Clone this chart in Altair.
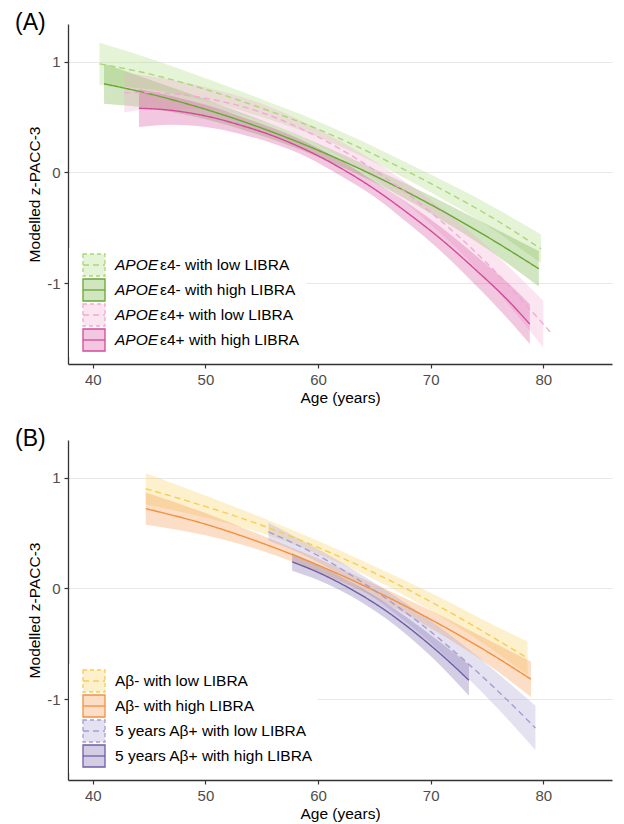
import altair as alt
import pandas as pd

FONT = "Liberation Sans"

# ---------------- Panel A data ----------------
A_names = ["APOE ε4- with low LIBRA", "APOE ε4- with high LIBRA",
           "APOE ε4+ with low LIBRA", "APOE ε4+ with high LIBRA"]
A_italic = ["APOE", "APOE", "APOE", "APOE"]
A_rest = ["ε4- with low LIBRA", "ε4- with high LIBRA",
          "ε4+ with low LIBRA", "ε4+ with high LIBRA"]
A_lty = ["low", "high", "low", "high"]
A_colors = ["#a9d877", "#66a832", "#f2a9d2", "#d4489c"]

A1_age = [40.6, 45, 50, 55, 60, 65, 70, 75, 79.8]
A1_fit = [0.98, 0.89, 0.75, 0.58, 0.39, 0.16, -0.10, -0.38, -0.69]
A1_hi = [1.17, 1.03, 0.85, 0.66, 0.46, 0.23, -0.02, -0.28, -0.56]
A1_lo = [0.79, 0.75, 0.65, 0.50, 0.32, 0.09, -0.18, -0.48, -0.82]

A2_age = [41.0, 45, 50, 55, 60, 65, 70, 75, 79.6]
A2_fit = [0.80, 0.71, 0.57, 0.40, 0.20, -0.03, -0.29, -0.58, -0.87]
A2_hi = [0.98, 0.84, 0.66, 0.47, 0.26, 0.03, -0.21, -0.47, -0.71]
A2_lo = [0.62, 0.58, 0.48, 0.33, 0.14, -0.09, -0.37, -0.69, -1.03]

A3_age = [42.8, 45, 50, 55, 60, 65, 70, 75, 80, 80.7]
A3_fit = [0.72, 0.72, 0.67, 0.54, 0.32, 0.02, -0.36, -0.82, -1.37, -1.45]
A3_hi = [0.90, 0.87, 0.77, 0.62, 0.39, 0.10, -0.25, -0.67, -1.16]
A3_lo = [0.54, 0.57, 0.57, 0.46, 0.25, -0.06, -0.47, -0.97, -1.58]

A4_age = [44.1, 47, 50, 53, 56, 59, 62, 65, 68, 71, 74, 77, 78.8]
A4_fit = [0.58, 0.56, 0.51, 0.43, 0.33, 0.20, 0.04, -0.15, -0.37, -0.61, -0.88, -1.17, -1.37]
A4_hi = [0.75, 0.69, 0.61, 0.51, 0.40, 0.27, 0.11, -0.08, -0.28, -0.50, -0.75, -1.01, -1.19]
A4_lo = [0.41, 0.43, 0.41, 0.35, 0.26, 0.14, -0.03, -0.22, -0.46, -0.72, -1.02, -1.34, -1.55]

# ---------------- Panel B data ----------------
B_names = ["Aβ- with low LIBRA", "Aβ- with high LIBRA",
           "5 years Aβ+ with low LIBRA", "5 years Aβ+ with high LIBRA"]
B_italic = ["", "", "", ""]
B_rest = B_names
B_lty = ["low", "high", "low", "high"]
B_colors = ["#f7cd55", "#f2913f", "#a69dd2", "#6e5ea6"]

B1_age = [44.7, 50, 55, 60, 65, 70, 75, 78.6]
B1_fit = [0.90, 0.74, 0.57, 0.37, 0.14, -0.12, -0.41, -0.63]
B1_hi = [1.04, 0.84, 0.64, 0.43, 0.20, -0.04, -0.30, -0.48]
B1_lo = [0.76, 0.64, 0.50, 0.31, 0.08, -0.20, -0.52, -0.78]

B2_age = [44.7, 50, 55, 60, 65, 70, 75, 78.9]
B2_fit = [0.72, 0.58, 0.41, 0.21, -0.02, -0.28, -0.57, -0.82]
B2_hi = [0.865, 0.68, 0.48, 0.27, 0.04, -0.20, -0.46, -0.66]
B2_lo = [0.575, 0.48, 0.34, 0.15, -0.08, -0.36, -0.68, -0.98]

B3_age = [55.6, 58, 61, 64, 67, 70, 73, 76, 79.3]
B3_fit = [0.51, 0.40, 0.24, 0.05, -0.16, -0.39, -0.65, -0.93, -1.26]
B3_hi = [0.59, 0.465, 0.30, 0.115, -0.08, -0.29, -0.52, -0.77, -1.06]
B3_lo = [0.43, 0.335, 0.18, -0.015, -0.24, -0.49, -0.78, -1.09, -1.46]

B4_age = [57.7, 60, 62, 64, 66, 68, 70, 72, 73.4]
B4_fit = [0.24, 0.145, 0.045, -0.07, -0.20, -0.35, -0.515, -0.695, -0.83]
B4_hi = [0.32, 0.215, 0.11, -0.005, -0.13, -0.27, -0.42, -0.575, -0.69]
B4_lo = [0.16, 0.075, -0.02, -0.135, -0.27, -0.43, -0.61, -0.815, -0.97]

X_TICKS = [40, 50, 60, 70, 80]
Y_TICKS = [-1, 0, 1]
X_DOMAIN = [37.8, 86.1]
Y_DOMAIN = [-1.73, 1.34]


def build_df(names, ltys, blocks):
    rows = []
    for name, lty, (ages, fit, hi, lo) in zip(names, ltys, blocks):
        for i, a in enumerate(ages):
            rows.append({
                "series": name, "lty": lty, "age": a, "fit": fit[i],
                "upper": hi[i] if i < len(hi) else None,
                "lower": lo[i] if i < len(lo) else None,
            })
    return pd.DataFrame(rows)


dfA = build_df(A_names, A_lty, [(A1_age, A1_fit, A1_hi, A1_lo),
                                (A2_age, A2_fit, A2_hi, A2_lo),
                                (A3_age, A3_fit, A3_hi, A3_lo),
                                (A4_age, A4_fit, A4_hi, A4_lo)])
dfB = build_df(B_names, B_lty, [(B1_age, B1_fit, B1_hi, B1_lo),
                                (B2_age, B2_fit, B2_hi, B2_lo),
                                (B3_age, B3_fit, B3_hi, B3_lo),
                                (B4_age, B4_fit, B4_hi, B4_lo)])

DASH = [6, 4]


def panel(df, names, colors, ltys, italics, rests, tag, bg_width):
    xenc = alt.X("age:Q", scale=alt.Scale(domain=X_DOMAIN, nice=False, zero=False),
                 axis=alt.Axis(values=X_TICKS, title="Age (years)", grid=False))
    yaxis = alt.Axis(values=Y_TICKS, title="Modelled z-PACC-3", grid=True,
                     labelExpr="'' + datum.value")
    yscale = alt.Scale(domain=Y_DOMAIN, nice=False, zero=False)
    color = alt.Color("series:N", scale=alt.Scale(domain=names, range=colors), legend=None)

    base = alt.Chart(df)
    band = base.transform_filter("isValid(datum.lower)").mark_area(
        interpolate="monotone", fillOpacity=0.3).encode(
        x=xenc, y=alt.Y("lower:Q", scale=yscale, axis=yaxis), y2="upper:Q", color=color)
    line = base.mark_line(interpolate="monotone", strokeWidth=1.4).encode(
        x=xenc, y=alt.Y("fit:Q", scale=yscale, axis=yaxis), color=color,
        strokeDash=alt.StrokeDash("lty:N", scale=alt.Scale(domain=["low", "high"],
                                                           range=[DASH, [1, 0]]), legend=None))

    one = pd.DataFrame({"tag": [tag]})
    layers = [band, line]
    layers.append(alt.Chart(one).mark_rect(fill="white").encode(
        x=alt.value(1), x2=alt.value(bg_width), y=alt.value(224), y2=alt.value(333)))
    y0, dy = 241, 25
    for i in range(4):
        yc = y0 + i * dy
        col = colors[i]
        dash_kw = {"strokeDash": DASH} if ltys[i] == "low" else {}
        d = pd.DataFrame({"it": [italics[i]], "rest": [rests[i]]})
        c = alt.Chart(d)
        layers.append(c.mark_rect(fill=col, fillOpacity=0.3, stroke=col, strokeWidth=1.3,
                                  **({"strokeDash": [4, 3]} if ltys[i] == "low" else {})).encode(
            x=alt.value(15), x2=alt.value(37), y=alt.value(yc - 11), y2=alt.value(yc + 11)))
        layers.append(c.mark_rule(color=col, strokeWidth=1.3, **dash_kw).encode(
            x=alt.value(15), x2=alt.value(37), y=alt.value(yc)))
        if italics[i]:
            layers.append(c.mark_text(align="left", baseline="middle", fontStyle="italic",
                                      fontSize=15.5, font=FONT, color="black").encode(
                x=alt.value(47), y=alt.value(yc), text="it:N"))
            rx = 47 + 45
        else:
            rx = 47
        layers.append(c.mark_text(align="left", baseline="middle", fontSize=15.5,
                                  font=FONT, color="black").encode(
            x=alt.value(rx), y=alt.value(yc), text="rest:N"))
    layers.append(alt.Chart(one).mark_text(align="left", baseline="alphabetic", fontSize=23,
                                           font=FONT, color="black").encode(
        x=alt.value(-53), y=alt.value(6), text="tag:N"))
    return alt.layer(*layers).properties(width=544, height=340)


pA = panel(dfA, A_names, A_colors, A_lty, A_italic, A_rest, "(A)", 238)
pB = panel(dfB, B_names, B_colors, B_lty, B_italic, B_rest, "(B)", 250)

chart = alt.vconcat(pA, pB, spacing=22).resolve_scale(
    color="independent", strokeDash="independent"
).properties(
    padding={"left": 7, "top": 4, "right": 4, "bottom": 0}
).configure(font=FONT).configure_view(stroke=None).configure_axis(
    domainColor="#333333", domainWidth=1.3, tickColor="#333333", tickWidth=1.2, tickSize=4,
    labelColor="#4d4d4d", labelFont=FONT, labelFontSize=15, labelPadding=4,
    titleFont=FONT, titleFontSize=15.5, titleFontWeight="normal", titleColor="black",
    gridColor="#e8e8e8", gridWidth=1.2
).configure_axisX(titlePadding=3).configure_axisY(titlePadding=4)

chart.save("out.html", embed_options={"renderer": "svg", "actions": False})
